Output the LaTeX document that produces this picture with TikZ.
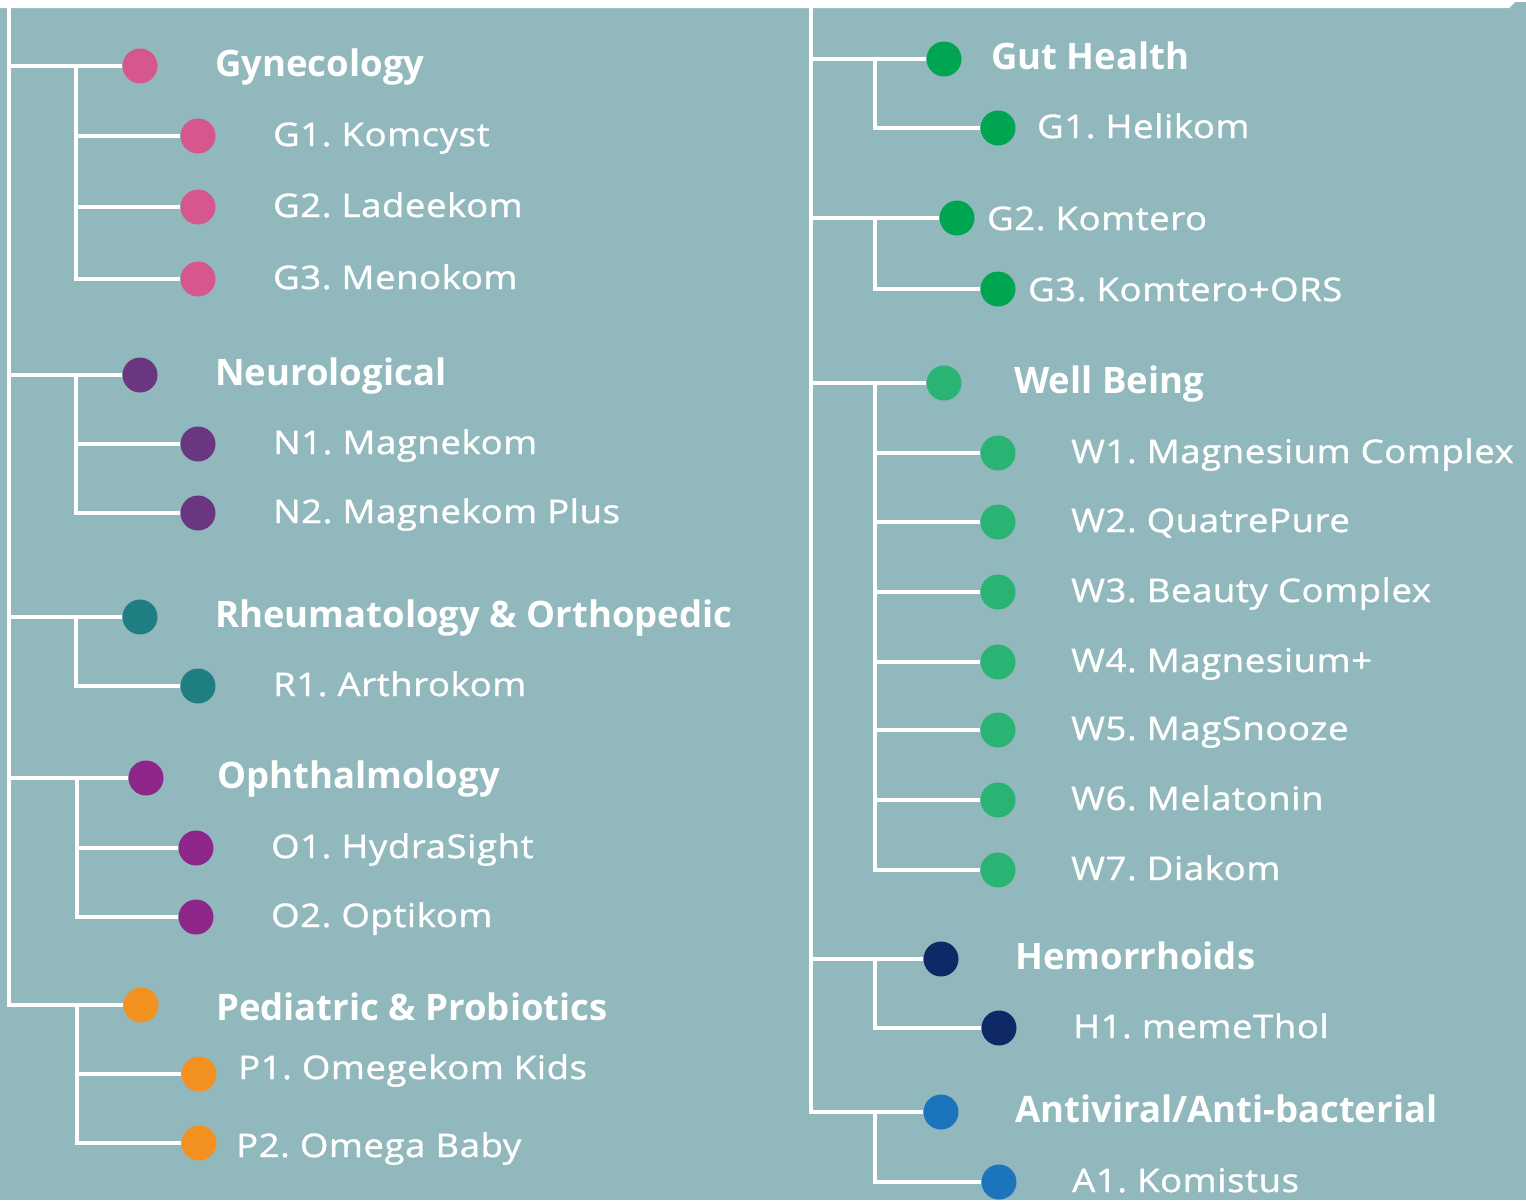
\documentclass[tikz,border=0pt]{standalone}
\usepackage{fontspec}
\setmainfont{Open Sans}
\newfontfamily\itemfont[FakeStretch=1.12,LetterSpace=2,FakeBold=1.2]{Open Sans}
\definecolor{bgteal}{HTML}{91B8BC}
\definecolor{gynpink}{HTML}{D5578E}
\definecolor{neurpurple}{HTML}{6A3680}
\definecolor{rheumteal}{HTML}{1F7E82}
\definecolor{ophmagenta}{HTML}{8E2789}
\definecolor{pedorange}{HTML}{F39120}
\definecolor{gutgreen}{HTML}{00A551}
\definecolor{wellgreen}{HTML}{29B473}
\definecolor{hemnavy}{HTML}{0F2966}
\definecolor{viralblue}{HTML}{1C75BC}
\frenchspacing
\begin{document}
\begin{tikzpicture}[x=1pt,y=-1pt,
  link/.style={draw=white,line width=4pt},
  main node/.style={circle,fill=#1,draw=none,minimum size=35pt,inner sep=0pt},
  cat text/.style={anchor=base west,inner sep=0pt,text=white,font=\fontsize{36.5}{40}\selectfont\bfseries},
  item text/.style={anchor=base west,inner sep=0pt,text=white,font=\itemfont\fontsize{32.5}{40}\selectfont}]

  \fill[bgteal] (0,0) rectangle (1526,1198);
  \fill[white] (0,0) -- (1515,0) -- (1509,6) -- (0,6) -- cycle;

  % left column
  \node[main node=gynpink] (g) at (140,64) {};
  \node[main node=gynpink] (g1) at (198,134) {};
  \node[main node=gynpink] (g2) at (198,205) {};
  \node[main node=gynpink] (g3) at (198,277) {};
  \node[main node=neurpurple] (n) at (140,373) {};
  \node[main node=neurpurple] (n1) at (198,442) {};
  \node[main node=neurpurple] (n2) at (198,511) {};
  \node[main node=rheumteal] (r) at (140,615) {};
  \node[main node=rheumteal] (r1) at (198,684) {};
  \node[main node=ophmagenta] (o) at (146,776) {};
  \node[main node=ophmagenta] (o1) at (196,846) {};
  \node[main node=ophmagenta] (o2) at (196,915) {};
  \node[main node=pedorange] (p) at (141,1003) {};
  \node[main node=pedorange] (p1) at (199,1072) {};
  \node[main node=pedorange] (p2) at (199,1141) {};

  \node[cat text] (gt) at (215,74) {Gynecology};
  \node[item text] (g1t) at (273,144) {G1. Komcyst};
  \node[item text] (g2t) at (273,215) {G2. Ladeekom};
  \node[item text] (g3t) at (273,287) {G3. Menokom};
  \node[cat text] (nt) at (215,383) {Neurological};
  \node[item text] (n1t) at (273,452) {N1. Magnekom};
  \node[item text] (n2t) at (273,521) {N2. Magnekom Plus};
  \node[cat text] (rt) at (215,625) {Rheumatology \& Orthopedic};
  \node[item text] (r1t) at (273,694) {R1. Arthrokom};
  \node[cat text] (ot) at (217,786) {Ophthalmology};
  \node[item text] (o1t) at (271,856) {O1. HydraSight};
  \node[item text] (o2t) at (271,925) {O2. Optikom};
  \node[cat text] (pt) at (216,1018) {Pediatric \& Probiotics};
  \node[item text] (p1t) at (238,1077) {P1. Omegekom Kids};
  \node[item text] (p2t) at (236,1155) {P2. Omega Baby};

  \coordinate (ltop) at (9,0);
  \coordinate (gb) at (76,64);
  \coordinate (nb) at (76,373);
  \coordinate (rb) at (76,615);
  \coordinate (ob) at (77,776);
  \coordinate (pb) at (77,1003);

  \draw[link] (ltop) |- (g) (ltop) |- (n) (ltop) |- (r) (ltop) |- (o) (ltop) |- (p);
  \draw[link] (gb) |- (g1) (gb) |- (g2) (gb) |- (g3);
  \draw[link] (nb) |- (n1) (nb) |- (n2);
  \draw[link] (rb) |- (r1);
  \draw[link] (ob) |- (o1) (ob) |- (o2);
  \draw[link] (pb) |- (p1) (pb) |- (p2);

  % right column
  \node[main node=gutgreen] (h) at (944,57) {};
  \node[main node=gutgreen] (h1) at (998,126) {};
  \node[main node=gutgreen] (h2) at (957,216) {};
  \node[main node=gutgreen] (h3) at (998,287) {};
  \node[main node=wellgreen] (w) at (944,381) {};
  \foreach \i/\y in {1/451,2/520,3/590,4/660,5/728,6/798,7/868}
    \node[main node=wellgreen] (w\i) at (998,\y) {};
  \node[main node=hemnavy] (m) at (941,957) {};
  \node[main node=hemnavy] (m1) at (999,1026) {};
  \node[main node=viralblue] (a) at (941,1110) {};
  \node[main node=viralblue] (a1) at (999,1180) {};

  \node[cat text] (ht) at (991,67) {Gut Health};
  \node[item text] (h1t) at (1037,136) {G1. Helikom};
  \node[item text] (h2t) at (987,228) {G2. Komtero};
  \node[item text] (h3t) at (1028,299) {G3. Komtero+ORS};
  \node[cat text] (wt) at (1014,391) {Well Being};
  \node[item text] (w1t) at (1071,461) {W1. Magnesium Complex};
  \node[item text] (w2t) at (1071,530) {W2. QuatrePure};
  \node[item text] (w3t) at (1071,600) {W3. Beauty Complex};
  \node[item text] (w4t) at (1071,670) {W4. Magnesium+};
  \node[item text] (w5t) at (1071,738) {W5. MagSnooze};
  \node[item text] (w6t) at (1071,808) {W6. Melatonin};
  \node[item text] (w7t) at (1071,878) {W7. Diakom};
  \node[cat text] (mt) at (1015,967) {Hemorrhoids};
  \node[item text] (m1t) at (1073,1036) {H1. memeThol};
  \node[cat text] (at) at (1015,1120) {Antiviral/Anti-bacterial};
  \node[item text] (a1t) at (1072,1190) {A1. Komistus};

  \coordinate (rtop) at (811,0);
  \coordinate (hb) at (875,57);
  \coordinate (h2b) at (875,216);
  \coordinate (wb) at (875,381);
  \coordinate (mb) at (875,957);
  \coordinate (ab) at (875,1110);

  \draw[link] (rtop) |- (h) (rtop) |- (h2) (rtop) |- (w) (rtop) |- (m) (rtop) |- (a);
  \draw[link] (hb) |- (h1);
  \draw[link] (h2b) |- (h3);
  \foreach \i in {1,...,7}
    \draw[link] (wb) |- (w\i);
  \draw[link] (mb) |- (m1);
  \draw[link] (ab) |- (a1);
\end{tikzpicture}
\end{document}
